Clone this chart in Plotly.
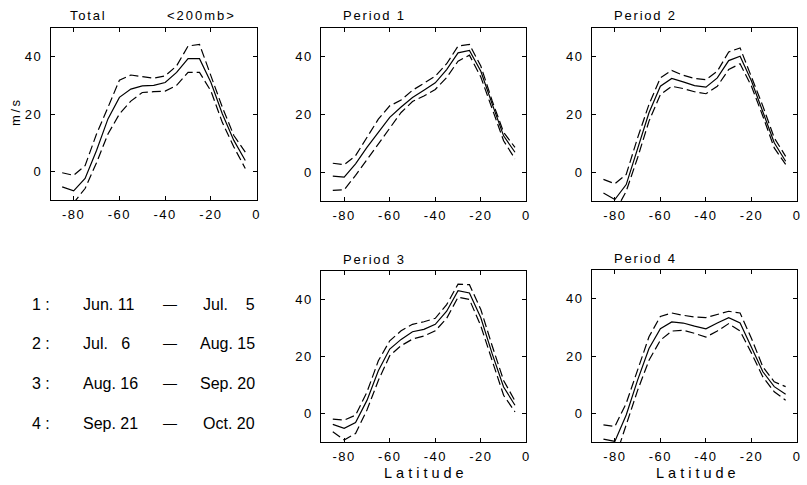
import plotly.graph_objects as go

# ---------------- data ----------------
lat = [-85, -80, -75, -70, -65, -60, -55, -50, -45, -40, -35, -30, -25, -20, -15, -10, -5]

total_mean  = [-5.4, -6.8, -2.5, 7.3, 18.3, 25.8, 28.7, 29.8, 30.0, 31.0, 34.5, 39.3, 39.3, 31.0, 20.0, 10.8, 3.8]
total_upper = [-0.5, -1.4, 2.0, 13.0, 22.3, 31.8, 33.6, 33.0, 32.5, 33.3, 36.8, 43.7, 44.3, 33.3, 22.3, 12.5, 6.7]
total_lower = [-14.0, -11.0, -6.0, 3.0, 13.0, 20.0, 24.5, 27.5, 27.8, 28.0, 30.0, 34.5, 34.5, 28.0, 17.0, 8.5, 1.0]

p1_mean  = [-1.4, -1.7, 2.9, 8.6, 13.8, 19.0, 22.6, 25.9, 28.4, 31.0, 35.6, 41.4, 42.2, 35.0, 23.6, 12.6, 6.9]
p1_upper = [3.1, 2.6, 5.7, 12.0, 18.4, 23.0, 25.0, 28.4, 31.0, 33.3, 37.6, 43.7, 44.3, 36.8, 24.7, 13.8, 8.6]
p1_lower = [-6.3, -6.1, -1.1, 4.3, 9.8, 15.0, 20.7, 24.5, 26.4, 28.7, 32.8, 38.5, 40.6, 33.0, 21.8, 10.9, 4.6]

p2_mean  = [-7.2, -9.5, -4.3, 8.4, 20.6, 29.8, 32.5, 31.3, 30.0, 29.5, 32.7, 38.7, 40.2, 31.6, 21.2, 10.2, 3.8]
p2_upper = [-2.5, -4.0, -0.8, 11.9, 23.5, 32.7, 35.3, 33.6, 32.5, 32.1, 35.0, 41.7, 43.1, 33.3, 22.9, 11.9, 5.5]
p2_lower = [-16.0, -14.0, -6.6, 5.0, 17.7, 26.9, 29.8, 29.0, 27.9, 27.2, 29.8, 35.6, 37.6, 29.8, 19.4, 8.4, 2.7]

p3_mean  = [-3.8, -5.2, -3.2, 4.6, 15.0, 22.6, 26.0, 28.7, 29.5, 31.3, 35.9, 43.1, 42.3, 33.6, 20.9, 9.3, 2.9]
p3_upper = [-2.0, -2.3, -0.6, 7.5, 18.5, 25.5, 29.0, 31.3, 32.2, 33.4, 38.2, 45.4, 45.2, 36.5, 23.7, 11.6, 4.4]
p3_lower = [-6.4, -9.3, -7.0, 1.2, 11.6, 20.3, 23.8, 26.1, 27.2, 29.0, 33.4, 40.8, 40.0, 30.7, 18.5, 6.4, 0.6]

p4_mean  = [-9.0, -9.8, -0.6, 11.6, 22.6, 29.5, 31.9, 31.5, 30.4, 29.5, 31.5, 33.4, 31.5, 23.2, 14.5, 9.3, 6.7]
p4_upper = [-4.0, -4.6, 3.5, 15.0, 26.7, 33.8, 35.0, 34.2, 33.6, 33.4, 34.5, 35.6, 35.0, 26.1, 16.2, 11.0, 9.3]
p4_lower = [-14.0, -16.0, -4.0, 8.0, 18.5, 25.5, 28.7, 29.0, 27.9, 26.6, 28.7, 31.3, 28.7, 21.0, 12.7, 7.5, 4.6]

panel_titles = ["Total", "Period 1", "Period 2", "Period 3", "Period 4"]
x_ticks = [-80, -60, -40, -20, 0]
y_ticks = [0, 20, 40]

legend_nums = ["1 :", "2 :", "3 :", "4 :"]
legend_start = ["Jun. 11", "Jul.   6", "Aug. 16", "Sep. 21"]
legend_end = ["Jul.    5", "Aug. 15", "Sep. 20", "Oct. 20"]

# ---------------- layout geometry ----------------
W, H = 807, 485
FONT = "Liberation Sans, Arial, sans-serif"

def px_x(p):
    return p / W

def px_y(p):
    return 1 - p / H

def spaced(t, s):
    return f'<span style="letter-spacing:{s}px">{t}</span>'

panels = [
    (total_mean, total_upper, total_lower, (51, 258), (28, 200)),
    (p1_mean, p1_upper, p1_lower, (323, 529), (28, 201)),
    (p2_mean, p2_upper, p2_lower, (595, 801), (28, 201)),
    (p3_mean, p3_upper, p3_lower, (323, 529), (271, 442)),
    (p4_mean, p4_upper, p4_lower, (595, 801), (270, 442)),
]

fig = go.Figure()
layout_axes = {}
annotations = []

for i, (mean, up, lo, xd, yd) in enumerate(panels):
    n = i + 1
    xa = "x" if n == 1 else f"x{n}"
    ya = "y" if n == 1 else f"y{n}"
    for vals, dash in ((up, "9px,4px"), (lo, "9px,4px"), (mean, "solid")):
        fig.add_trace(go.Scatter(
            x=lat, y=vals, xaxis=xa, yaxis=ya, mode="lines",
            line=dict(color="black", width=1.2, dash=dash),
            showlegend=False, hoverinfo="skip"))
    common = dict(showline=True, linecolor="black", linewidth=1, mirror="ticks",
                  ticks="inside", ticklen=4, tickcolor="black", tickwidth=1,
                  showgrid=False, zeroline=False,
                  tickfont=dict(family=FONT, size=13, color="black"))
    layout_axes["xaxis" if n == 1 else f"xaxis{n}"] = dict(
        domain=[px_x(xd[0]), px_x(xd[1])], range=[-90, 0],
        tickvals=x_ticks, ticktext=[spaced(str(v), 1.5) for v in x_ticks],
        anchor=ya, ticklabelstandoff=2, **common)
    layout_axes["yaxis" if n == 1 else f"yaxis{n}"] = dict(
        domain=[px_y(yd[1]), px_y(yd[0])], range=[-10, 50],
        tickvals=y_ticks, ticktext=[spaced(str(v), 1.5) for v in y_ticks],
        anchor=xa, ticklabelstandoff=5, **common)
    annotations.append(dict(
        text=spaced(panel_titles[i], 1.8),
        x=px_x(xd[0] + (17 if n == 1 else 20)), y=px_y(yd[0] - 12),
        xref="paper", yref="paper", xanchor="left", yanchor="middle",
        showarrow=False, font=dict(family=FONT, size=13, color="black")))

annotations.append(dict(text=spaced("&lt;200mb&gt;", 2),
                        x=px_x(203), y=px_y(15), xref="paper", yref="paper",
                        xanchor="center", yanchor="middle", showarrow=False,
                        font=dict(family=FONT, size=13, color="black")))
annotations.append(dict(text=spaced("m/s", 2.5),
                        x=px_x(15), y=px_y(112), xref="paper", yref="paper",
                        xanchor="center", yanchor="middle", showarrow=False,
                        textangle=-90,
                        font=dict(family=FONT, size=13, color="black")))
for cx in (426, 699):
    annotations.append(dict(text=spaced("Latitude", 4),
                            x=px_x(cx + 2), y=px_y(473), xref="paper", yref="paper",
                            xanchor="center", yanchor="middle", showarrow=False,
                            font=dict(family=FONT, size=14.5, color="black")))

rows_y = [304, 343, 383, 423]
for k in range(4):
    yy = px_y(rows_y[k])
    annotations.append(dict(text=legend_nums[k], x=px_x(30), y=yy, xref="paper", yref="paper",
                            xanchor="left", yanchor="middle", showarrow=False,
                            font=dict(family=FONT, size=16, color="black")))
    annotations.append(dict(text=legend_start[k].replace(" ", "&nbsp;"), x=px_x(81), y=yy,
                            xref="paper", yref="paper",
                            xanchor="left", yanchor="middle", showarrow=False,
                            font=dict(family=FONT, size=16, color="black")))
    annotations.append(dict(text="—", x=px_x(171), y=yy, xref="paper", yref="paper",
                            xanchor="center", yanchor="middle", showarrow=False,
                            font=dict(family=FONT, size=14, color="black")))
    annotations.append(dict(text=legend_end[k].replace(" ", "&nbsp;"), x=px_x(258), y=yy,
                            xref="paper", yref="paper",
                            xanchor="right", yanchor="middle", showarrow=False,
                            font=dict(family=FONT, size=16, color="black")))

fig.update_layout(
    width=W, height=H,
    margin=dict(l=0, r=0, t=0, b=0),
    paper_bgcolor="white", plot_bgcolor="white",
    showlegend=False,
    annotations=annotations,
    **layout_axes)

fig.write_html("out.html")
